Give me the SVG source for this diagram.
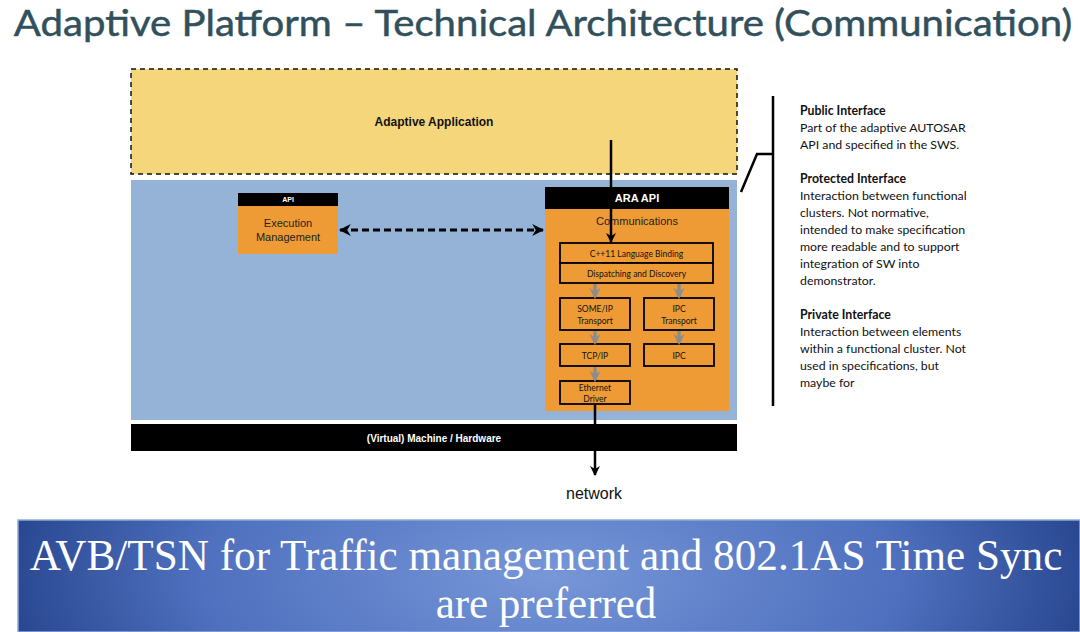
<svg xmlns="http://www.w3.org/2000/svg" width="1080" height="632" viewBox="0 0 1080 632">
<defs>
<marker id="ah" viewBox="0 0 10 10" refX="9" refY="5" markerWidth="4" markerHeight="4" orient="auto-start-reverse"><path d="M0,0 L10,5 L0,10 L3,5 z" fill="#000"/></marker>
<marker id="gh" viewBox="0 0 10 10" refX="8" refY="5" markerWidth="3.2" markerHeight="3.2" orient="auto"><path d="M0,0 L10,5 L0,10 L3,5 z" fill="#8C8C8C"/></marker>
<radialGradient id="bg" cx="0.5" cy="0.5" r="0.55" gradientTransform="translate(0.5 0.5) scale(1 4) translate(-0.5 -0.5)">
<stop offset="0" stop-color="#7797D8"/>
<stop offset="0.6" stop-color="#4E70BE"/>
<stop offset="1" stop-color="#223F88"/>
</radialGradient>
<style>
.sf{font-family:"Liberation Sans",Arial,sans-serif}
.cb{font-family:Lato,"Open Sans",sans-serif}
.inner{fill:#EE9B35;stroke:#000;stroke-width:1.8}
.it{font-family:Lato,"Open Sans",sans-serif;font-size:8.5px;fill:#111;text-anchor:middle}
.rt{font-family:Lato,"Open Sans",sans-serif;font-size:12.3px;fill:#111}
.gar{stroke:#8C8C8C;stroke-width:3.5;marker-end:url(#gh)}
.bt{font-family:"Liberation Serif","Times New Roman",serif;fill:#fff;text-anchor:middle}
</style>
</defs>
<rect width="1080" height="632" fill="#fff"/>
<text x="507.5" y="36" transform="scale(1.07,1)" class="cb" font-size="37.5" fill="#31505C" stroke="#31505C" stroke-width="0.5" text-anchor="middle">Adaptive Platform – Technical Architecture (Communication)</text>

<g id="adaptive-application">
<rect x="131" y="69" width="606" height="105" fill="#F6D67B" stroke="#111" stroke-width="1.5" stroke-dasharray="5,4"/>
<text x="434" y="126" class="sf" font-size="12" font-weight="bold" text-anchor="middle" fill="#111">Adaptive Application</text>
</g>
<g id="platform">
<rect x="131" y="180" width="606" height="240" fill="#95B3D7"/>
</g>
<g id="hardware">
<rect x="131" y="424" width="606" height="27" fill="#000"/>
<text x="434" y="442" class="sf" font-size="10" font-weight="bold" text-anchor="middle" fill="#fff">(Virtual) Machine / Hardware</text>
</g>
<g id="execution-management">
<rect x="238" y="206" width="100" height="48" fill="#EE9B35"/>
<rect x="238" y="193" width="100" height="13" fill="#000"/>
<text x="288" y="202" class="sf" font-size="7" font-weight="bold" text-anchor="middle" fill="#fff">API</text>
<text x="288" y="227" class="sf" font-size="11" text-anchor="middle" fill="#222">Execution</text>
<text x="288" y="241" class="sf" font-size="11" text-anchor="middle" fill="#222">Management</text>
</g>
<g id="communications">
<rect x="545" y="209" width="184" height="202" fill="#EE9B35"/>
<rect x="545" y="187" width="184" height="22" fill="#000"/>
<text x="637" y="202" class="sf" font-size="11" font-weight="bold" text-anchor="middle" fill="#fff">ARA API</text>
<text x="637" y="225" class="sf" font-size="11" text-anchor="middle" fill="#222">Communications</text>
</g>
<g id="cpp-binding"><rect x="560" y="243" width="153" height="20" class="inner"/><text x="636.5" y="256.5" class="it">C++11 Language Binding</text></g>
<g id="dispatching"><rect x="560" y="263" width="153" height="20" class="inner"/><text x="636.5" y="276.5" class="it">Dispatching and Discovery</text></g>
<g id="someip-transport"><rect x="560" y="298" width="70" height="32" class="inner"/><text x="595" y="311.5" class="it">SOME/IP</text><text x="595" y="323.5" class="it">Transport</text></g>
<g id="ipc-transport"><rect x="644" y="298" width="70" height="32" class="inner"/><text x="679" y="311.5" class="it">IPC</text><text x="679" y="323.5" class="it">Transport</text></g>
<g id="tcpip"><rect x="560" y="344" width="70" height="22" class="inner"/><text x="595" y="358.5" class="it">TCP/IP</text></g>
<g id="ipc"><rect x="644" y="344" width="70" height="22" class="inner"/><text x="679" y="358.5" class="it">IPC</text></g>
<g id="ethernet-driver"><rect x="560" y="381" width="70" height="23" class="inner"/><text x="595" y="390.5" class="it">Ethernet</text><text x="595" y="401.5" class="it">Driver</text></g>

<g id="connectors" fill="none">
<line x1="340" y1="230" x2="543" y2="230" stroke="#000" stroke-width="3" stroke-dasharray="7,4" marker-start="url(#ah)" marker-end="url(#ah)"/>
<line x1="611" y1="140" x2="611" y2="242" stroke="#000" stroke-width="2.5" marker-end="url(#ah)"/>
<line x1="595" y1="284" x2="595" y2="297" class="gar"/>
<line x1="679" y1="284" x2="679" y2="297" class="gar"/>
<line x1="595" y1="331" x2="595" y2="343" class="gar"/>
<line x1="679" y1="331" x2="679" y2="343" class="gar"/>
<line x1="595" y1="367" x2="595" y2="380" class="gar"/>
<line x1="595" y1="405" x2="595" y2="475" stroke="#000" stroke-width="2.5" marker-end="url(#ah)"/>
<path d="M773,96 V406 M773,154 H757 L741,192" stroke="#000" stroke-width="2.5"/>
</g>
<text x="594" y="499" class="sf" font-size="16" text-anchor="middle" fill="#111">network</text>

<g id="interfaces">
<text x="800" y="115" class="rt" font-weight="bold">Public Interface</text>
<text x="800" y="132" class="rt">Part of the adaptive AUTOSAR</text>
<text x="800" y="149" class="rt">API and specified in the SWS.</text>
<text x="800" y="183" class="rt" font-weight="bold">Protected Interface</text>
<text x="800" y="200" class="rt">Interaction between functional</text>
<text x="800" y="217" class="rt">clusters. Not normative,</text>
<text x="800" y="234" class="rt">intended to make specification</text>
<text x="800" y="251" class="rt">more readable and to support</text>
<text x="800" y="268" class="rt">integration of SW into</text>
<text x="800" y="285" class="rt">demonstrator.</text>
<text x="800" y="319" class="rt" font-weight="bold">Private Interface</text>
<text x="800" y="336" class="rt">Interaction between elements</text>
<text x="800" y="353" class="rt">within a functional cluster. Not</text>
<text x="800" y="370" class="rt">used in specifications, but</text>
<text x="800" y="387" class="rt">maybe for</text>
</g>

<g id="banner">
<rect x="18" y="520" width="1062" height="112" fill="url(#bg)" stroke="#8FA9DC" stroke-width="1.5"/>
<text x="505.6" y="509" transform="scale(1.08,1.12)" class="bt" font-size="40">AVB/TSN for Traffic management and 802.1AS Time Sync</text>
<text x="546" y="589" transform="scale(1,1.05)" class="bt" font-size="43">are preferred</text>
</g>
</svg>
